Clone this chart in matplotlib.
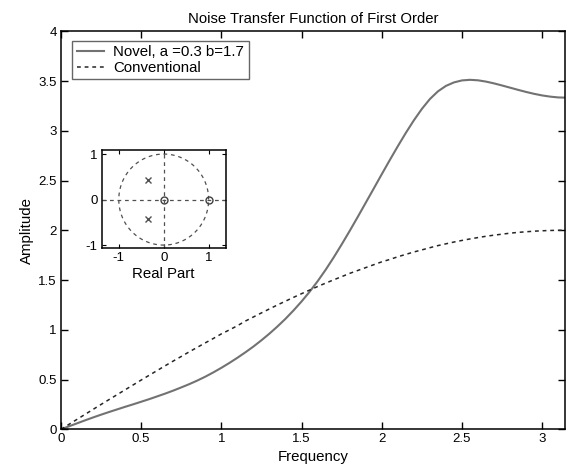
import numpy as np
import matplotlib
matplotlib.use("Agg")
import matplotlib.pyplot as plt

plt.rcParams['font.family'] = ['Liberation Sans', 'DejaVu Sans']

# Frequency grid (rad/sample) where values were read
freq = [0.00, 0.05, 0.10, 0.15, 0.20, 0.25, 0.30, 0.35, 0.40, 0.45, 0.50,
        0.55, 0.60, 0.65, 0.70, 0.75, 0.80, 0.85, 0.90, 0.95, 1.00, 1.05,
        1.10, 1.15, 1.20, 1.25, 1.30, 1.35, 1.40, 1.45, 1.50, 1.55, 1.60,
        1.65, 1.70, 1.75, 1.80, 1.85, 1.90, 1.95, 2.00, 2.05, 2.10, 2.15,
        2.20, 2.25, 2.30, 2.35, 2.40, 2.45, 2.50, 2.55, 2.60, 2.65, 2.70,
        2.75, 2.80, 2.85, 2.90, 2.95, 3.00, 3.05, 3.10, 3.1416]
novel = [0.000, 0.030, 0.060, 0.090, 0.119, 0.147, 0.174, 0.200, 0.226,
         0.251, 0.277, 0.303, 0.331, 0.359, 0.389, 0.421, 0.454, 0.490,
         0.529, 0.572, 0.618, 0.667, 0.719, 0.774, 0.832, 0.895, 0.962,
         1.034, 1.111, 1.195, 1.285, 1.382, 1.488, 1.603, 1.727, 1.858,
         1.994, 2.134, 2.277, 2.420, 2.564, 2.706, 2.845, 2.979, 3.105,
         3.220, 3.319, 3.396, 3.451, 3.486, 3.506, 3.512, 3.507, 3.494,
         3.476, 3.455, 3.433, 3.411, 3.390, 3.371, 3.355, 3.343, 3.335,
         3.333]
conventional = [0.000, 0.050, 0.100, 0.150, 0.200, 0.250, 0.299, 0.348,
                0.397, 0.446, 0.495, 0.543, 0.591, 0.639, 0.686, 0.732,
                0.779, 0.824, 0.869, 0.913, 0.959, 0.999, 1.041, 1.088,
                1.129, 1.170, 1.210, 1.250, 1.288, 1.326, 1.363, 1.399,
                1.435, 1.469, 1.502, 1.534, 1.567, 1.596, 1.625, 1.654,
                1.683, 1.707, 1.734, 1.758, 1.782, 1.803, 1.825, 1.846,
                1.864, 1.882, 1.898, 1.913, 1.927, 1.940, 1.951, 1.961,
                1.971, 1.979, 1.985, 1.991, 1.995, 1.998, 2.000, 2.000]

# Pole-zero data for the inset
zeros_re = [0.0, 1.0]
zeros_im = [0.0, 0.0]
poles_re = [-0.35, -0.35]
poles_im = [0.43, -0.43]

title = "Noise Transfer Function of First Order"
labels = ["Novel, a =0.3 b=1.7", "Conventional"]

fig = plt.figure(figsize=(5.72, 4.75), dpi=100)
ax = fig.add_axes([0.1066, 0.0962, 0.881, 0.838])

ax.plot(freq, novel, color='#727272', lw=1.5, ls='-', label=labels[0])
ax.plot(freq, conventional, color='#262626', lw=1.1, ls=(0, (2.5, 2.5)), label=labels[1])

ax.set_xlim(0, np.pi)
ax.set_ylim(0, 4)
ax.set_xticks([0, 0.5, 1, 1.5, 2, 2.5, 3])
ax.set_xticklabels(['0', '0.5', '1', '1.5', '2', '2.5', '3'])
ax.set_yticks([0, 0.5, 1, 1.5, 2, 2.5, 3, 3.5, 4])
ax.set_yticklabels(['0', '0.5', '1', '1.5', '2', '2.5', '3', '3.5', '4'])
ax.tick_params(direction='in', top=True, right=True, length=5, width=1,
               labelsize=9.5, colors='black', pad=3)
for s in ax.spines.values():
    s.set_linewidth(1.1)
ax.set_xlabel("Frequency", fontsize=10.8, labelpad=3)
ax.set_ylabel("Amplitude", fontsize=10.8, labelpad=3)
ax.set_title(title, fontsize=10.7, pad=6)

leg = ax.legend(loc='upper left', bbox_to_anchor=(0.022, 0.976), fontsize=10.8,
                frameon=True, fancybox=False, edgecolor='#404040',
                handlelength=1.8, handletextpad=0.65, borderpad=0.3,
                labelspacing=0.1, borderaxespad=0)
leg.get_frame().set_linewidth(1.0)

# Inset pole-zero plot
ins = fig.add_axes([0.1778, 0.4773, 0.2168, 0.207])
th = np.linspace(0, 2 * np.pi, 200)
ins.plot(np.cos(th), np.sin(th), color='#505050', lw=0.9, ls=(0, (3, 3)))
ins.axhline(0, color='#505050', lw=0.9, ls=(0, (3, 3)))
ins.axvline(0, color='#505050', lw=0.9, ls=(0, (3, 3)))
ins.plot(zeros_re, zeros_im, 'o', mfc='none', mec='#404040', ms=5, mew=1.0)
ins.plot(poles_re, poles_im, 'x', color='#505050', ms=5, mew=1.0)
ins.set_xlim(-1.38, 1.38)
ins.set_ylim(-1.07, 1.09)
ins.set_xticks([-1, 0, 1])
ins.set_yticks([-1, 0, 1])
ins.set_xticklabels(['-1', '0', '1'])
ins.set_yticklabels(['-1', '0', '1'])
ins.tick_params(direction='in', top=True, right=True, length=3, labelsize=9.5, pad=3)
for s in ins.spines.values():
    s.set_linewidth(1.1)
ins.set_xlabel("Real Part", fontsize=10.8, labelpad=2)

fig.savefig("out.png", dpi=100)
